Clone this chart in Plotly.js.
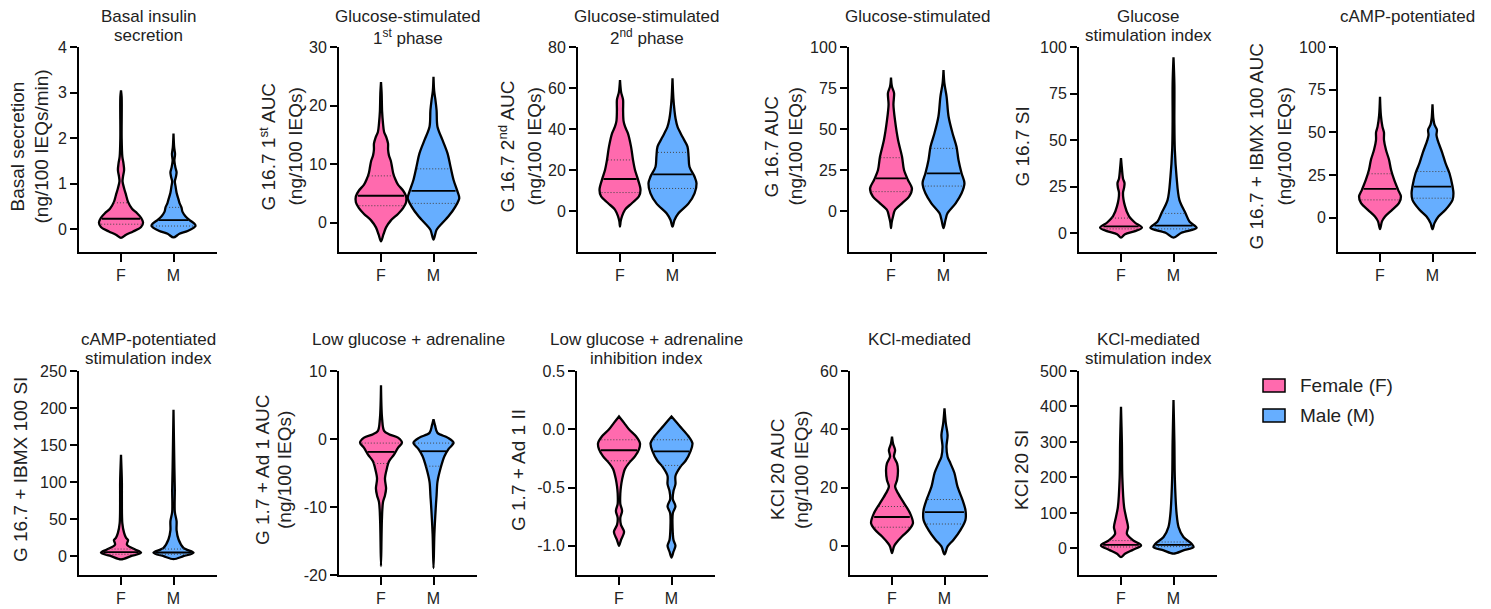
<!DOCTYPE html>
<html><head><meta charset="utf-8">
<script src="https://cdn.plot.ly/plotly-3.0.1.min.js"></script>
<style>html,body{margin:0;padding:0;background:#fff}#chart{width:1491px;height:609px}</style>
</head><body><div id="chart"></div>
<script>
// ---------------- DATA ----------------
const categories = ['F', 'M'];
const seriesNames = ['Female (F)', 'Male (M)'];

const panelTitles = [
  'Basal insulin<br>secretion', 'Glucose-stimulated<br>1<sup>st</sup> phase', 'Glucose-stimulated<br>2<sup>nd</sup> phase',
  'Glucose-stimulated', 'Glucose<br>stimulation index', 'cAMP-potentiated',
  'cAMP-potentiated<br>stimulation index', 'Low glucose + adrenaline', 'Low glucose + adrenaline<br>inhibition index',
  'KCl-mediated', 'KCl-mediated<br>stimulation index'];
const axisTitles = [
  'Basal secretion<br>(ng/100 IEQs/min)', 'G 16.7 1<sup>st</sup> AUC<br>(ng/100 IEQs)', 'G 16.7 2<sup>nd</sup> AUC<br>(ng/100 IEQs)',
  'G 16.7 AUC<br>(ng/100 IEQs)', 'G 16.7 SI', 'G 16.7 + IBMX 100 AUC<br>(ng/100 IEQs)',
  'G 16.7 + IBMX 100 SI', 'G 1.7 + Ad 1 AUC<br>(ng/100 IEQs)', 'G 1.7 + Ad 1 II',
  'KCl 20 AUC<br>(ng/100 IEQs)', 'KCl 20 SI'];

const yRanges = [[-0.5, 4], [-5, 30], [-20, 80], [-25, 100], [-10, 100], [-20, 100],
                 [-25, 250], [-20, 10], [-1.25, 0.5], [-10, 60], [-75, 500]];
const yTickVals = [[0,1,2,3,4], [0,10,20,30], [0,20,40,60,80], [0,25,50,75,100], [0,25,50,75,100], [0,25,50,75,100],
                   [0,50,100,150,200,250], [-20,-10,0,10], [-1,-0.5,0,0.5], [0,20,40,60], [0,100,200,300,400,500]];
const yTickText = [['0','1','2','3','4'], ['0','10','20','30'], ['0','20','40','60','80'], ['0','25','50','75','100'],
                   ['0','25','50','75','100'], ['0','25','50','75','100'], ['0','50','100','150','200','250'],
                   ['-20','-10','0','10'], ['-1.0','-0.5','0.0','0.5'], ['0','20','40','60'], ['0','100','200','300','400','500']];

// violin density profiles (value level, relative half-width)
const basal_F_val = [-0.19,-0.12,-0.05,0.05,0.15,0.25,0.35,0.45,0.6,0.75,0.9,1.05,1.15,1.3,1.45,1.6,2.0,2.9,3.05];
const basal_F_den = [0,0.23,0.55,0.91,1,0.91,0.73,0.5,0.32,0.23,0.14,0.07,0.09,0.14,0.11,0.06,0.03,0.03,0];
const basal_M_val = [-0.18,-0.1,-0.04,0.07,0.12,0.2,0.28,0.38,0.48,0.58,0.65,0.8,0.95,1.05,1.15,1.25,1.35,1.5,1.65,1.8,2.1];
const basal_M_den = [0,0.27,0.64,1,0.95,0.73,0.55,0.41,0.36,0.27,0.23,0.14,0.09,0.06,0.11,0.14,0.09,0.04,0.07,0.03,0];

const gsis1_F_val = [-3.2,-2,-0.8,0.4,1.5,2.5,3.5,4.5,5.5,6.5,7.5,8.5,9.5,10.5,11.5,12.5,13.5,14.5,15.5,17,19,22,24];
const gsis1_F_den = [0,0.11,0.23,0.45,0.77,1.0,1.14,1.14,1.0,0.77,0.64,0.55,0.5,0.45,0.36,0.32,0.32,0.25,0.14,0.09,0.05,0.03,0];
const gsis1_M_val = [-2.9,-1.2,0,1.1,2.8,4.2,5.3,7.3,9.6,11.8,14.1,16.4,19.2,20.9,22.5,24.9];
const gsis1_M_den = [0,0.14,0.41,0.68,1.0,1.17,1.09,0.91,0.77,0.64,0.41,0.18,0.14,0.09,0.03,0];

const gsis2_F_val = [-7.6,-5,-2.6,0.7,3.9,7.2,10.3,15.2,20,24.9,31.4,37.9,41.1,44,49.2,54.2,58,63.9];
const gsis2_F_den = [0,0.03,0.09,0.23,0.55,0.86,0.93,0.82,0.68,0.59,0.5,0.36,0.23,0.16,0.14,0.14,0.05,0];
const gsis2_M_val = [-7.6,-4.4,-1.1,3.7,8.6,13.5,16.7,21.6,26.5,31.4,36.2,41,45,49,55,64.7];
const gsis2_M_den = [0,0.09,0.27,0.73,1.0,1.09,1.0,0.77,0.73,0.68,0.45,0.23,0.14,0.09,0.04,0];

const gsis_F_val = [-10.5,-7,-3.5,0.6,4.7,8.7,13.8,18.9,25,33.1,43.3,55.5,65,71.9,76,81.3];
const gsis_F_den = [0,0.03,0.09,0.18,0.5,0.82,0.95,0.77,0.59,0.5,0.32,0.18,0.11,0.14,0.04,0];
const gsis_M_val = [-10.5,-5.5,-1.4,4.7,10.8,16.9,23,31.1,39.2,47.4,57.6,69.8,78,86];
const gsis_M_den = [0,0.09,0.18,0.55,0.82,0.95,0.82,0.68,0.59,0.41,0.23,0.14,0.04,0];

const gsi_F_val = [-2.3,-0.5,1.2,3.0,5.7,9.2,14.6,21.7,24.5,26.9,29.5,35,40.4];
const gsi_F_den = [0,0.18,0.64,0.95,0.64,0.36,0.18,0.09,0.14,0.16,0.09,0.04,0];
const gsi_M_val = [-2.3,0.35,3.0,6.2,10.7,17.8,30.2,45,60,80,94.5];
const gsi_M_den = [0,0.36,1.05,0.73,0.55,0.27,0.14,0.06,0.04,0.04,0];

const camp_F_val = [-6.6,-2.1,0.8,4.7,8.6,12.5,16.4,22.3,28.1,34,39.8,45.6,50,53.4,60,70.9];
const camp_F_den = [0,0.09,0.23,0.55,0.86,0.95,0.82,0.64,0.5,0.41,0.27,0.18,0.18,0.11,0.04,0];
const camp_M_val = [-6.6,-3.1,0.8,4.7,10.5,14.4,18.3,26.1,32,37.8,45.6,48.5,51.5,54.5,58,66.5];
const camp_M_den = [0,0.09,0.27,0.59,0.91,0.95,0.91,0.77,0.59,0.45,0.23,0.18,0.2,0.09,0.04,0];

const campSI_F_val = [-4,0.4,5,9.4,16,22,25,31.8,45,80,100,137];
const campSI_F_den = [0,0.45,0.91,0.64,0.27,0.32,0.23,0.14,0.06,0.04,0.04,0];
const campSI_M_val = [-3.6,0.4,5,11.6,22.8,35,47.5,60,90,120,197.6];
const campSI_M_den = [0,0.45,0.91,0.45,0.23,0.14,0.14,0.06,0.06,0.04,0];

const adr_F_val = [-18.7,-12,-9.3,-8.3,-7.3,-5.8,-4.3,-3.3,-2.3,-1.3,-0.55,0.2,0.7,1.2,3,7.9];
const adr_F_den = [0,0.04,0.09,0.18,0.23,0.18,0.27,0.36,0.59,0.77,0.95,0.77,0.36,0.14,0.05,0];
const adr_M_val = [-19,-14,-9.7,-8.3,-6.3,-4.3,-2.5,-1.5,-0.55,0.2,0.9,2,2.9];
const adr_M_den = [0,0.04,0.11,0.14,0.18,0.32,0.5,0.68,0.91,0.64,0.18,0.07,0];

const adrII_F_val = [-1.0,-0.95,-0.88,-0.82,-0.76,-0.7,-0.64,-0.55,-0.49,-0.43,-0.34,-0.29,-0.23,-0.17,-0.12,-0.06,0,0.055,0.11];
const adrII_F_den = [0,0.09,0.23,0.09,0.06,0.14,0.06,0.06,0.09,0.14,0.27,0.45,0.73,0.91,0.95,0.77,0.45,0.23,0];
const adrII_M_val = [-1.1,-1.05,-1.0,-0.95,-0.85,-0.72,-0.66,-0.6,-0.53,-0.47,-0.4,-0.32,-0.27,-0.19,-0.12,-0.06,0.03,0.11];
const adrII_M_den = [0,0.09,0.18,0.09,0.05,0.06,0.18,0.06,0.09,0.18,0.18,0.41,0.64,0.86,0.95,0.77,0.36,0];

const kcl_F_val = [-2.5,-0.2,0.9,3.2,5.5,7.8,11.2,14.6,18.1,20.3,22.6,26,28.3,30.6,32.9,35,37.5];
const kcl_F_den = [0,0.09,0.18,0.45,0.77,0.95,0.82,0.55,0.27,0.14,0.23,0.27,0.23,0.09,0.14,0.05,0];
const kcl_M_val = [-2.9,-0.2,2.1,5.5,8.9,12.3,15.7,20.3,25,28.3,30.6,34,38,42,47.2];
const kcl_M_den = [0,0.14,0.41,0.73,0.95,0.95,0.82,0.59,0.45,0.27,0.14,0.09,0.14,0.06,0];

const kclSI_F_val = [-24.5,-15,-3.8,8.5,22.6,41,60,88,117,200,300,399];
const kclSI_F_den = [0,0.18,0.55,0.91,0.55,0.27,0.32,0.23,0.14,0.06,0.04,0];
const kclSI_M_val = [-15,-5.6,3.8,13,32,60,98,200,300,418];
const kclSI_M_den = [0,0.45,0.91,0.82,0.45,0.23,0.14,0.06,0.04,0];

const median_F = [0.23, 4.6, 15.6, 19.9, 3.8, 17.0, 5.8, -1.9, -0.18, 9.9, 10];
const q1_F     = [0.11, 2.9,  9.0, 11.8, 2.4, 10.5, 3.0, -3.6, -0.27, 6.4, 4];
const q3_F     = [0.58, 8.0, 24.9, 32.5, 8.2, 25.8, 10,  -0.6, -0.09, 13.5, 22];
const median_M = [0.2, 5.45, 17.9, 23.0, 4.2, 18.3, 5.3, -1.8, -0.19, 11.6, 10];
const q1_M     = [0.07, 3.3, 11.0, 15.2, 2.4, 11.5, 3.0, -4.0, -0.31, 7.5, 5];
const q3_M     = [0.48, 9.2, 28.6, 38.2, 10.7, 27.1, 10, -0.6, -0.09, 15.9, 18];

const profilesF = [[basal_F_val,basal_F_den],[gsis1_F_val,gsis1_F_den],[gsis2_F_val,gsis2_F_den],[gsis_F_val,gsis_F_den],
  [gsi_F_val,gsi_F_den],[camp_F_val,camp_F_den],[campSI_F_val,campSI_F_den],[adr_F_val,adr_F_den],[adrII_F_val,adrII_F_den],
  [kcl_F_val,kcl_F_den],[kclSI_F_val,kclSI_F_den]];
const profilesM = [[basal_M_val,basal_M_den],[gsis1_M_val,gsis1_M_den],[gsis2_M_val,gsis2_M_den],[gsis_M_val,gsis_M_den],
  [gsi_M_val,gsi_M_den],[camp_M_val,camp_M_den],[campSI_M_val,campSI_M_den],[adr_M_val,adr_M_den],[adrII_M_val,adrII_M_den],
  [kcl_M_val,kcl_M_den],[kclSI_M_val,kclSI_M_den]];

// ---------------- LAYOUT / STYLE ----------------
const W = 1491, H = 609;
const FONT = 'Liberation Sans, Arial, Helvetica, sans-serif';
const TXT = '#222222';
const colors = ['#FF6AAE', '#66AEFF'];
const WSCALE = 0.42;              // category units per relative density 1
const XPX = 52.5;                 // pixels per category unit
const axLeft = [79, 339, 578, 849, 1079, 1338, 79, 339, 577, 850, 1079];
const axW = 138;
const rowTop = [47, 371], rowBot = [252, 575];
const titleTop = [5, 328];
const axisTitleX = [[17, 41], [267, 295], [506, 534], [771, 795], [1022], [1256, 1284],
                    [21], [263, 285], [519], [778, 802], [1022]];

function interp(vals, dens, v) {
  for (let i = 0; i < vals.length - 1; i++) {
    if (v >= vals[i] && v <= vals[i + 1]) {
      const t = (v - vals[i]) / (vals[i + 1] - vals[i]);
      return dens[i] + t * (dens[i + 1] - dens[i]);
    }
  }
  return 0;
}

const traces = [];
const layout = {
  width: W, height: H, margin: {l: 0, r: 0, t: 0, b: 0},
  paper_bgcolor: '#fff', plot_bgcolor: 'rgba(0,0,0,0)',
  showlegend: false, font: {family: FONT, color: TXT, size: 16},
  annotations: [], shapes: []
};

for (let p = 0; p < 11; p++) {
  const row = p < 6 ? 0 : 1;
  const n = p + 1;
  const xa = 'xaxis' + (n === 1 ? '' : n), ya = 'yaxis' + (n === 1 ? '' : n);
  const xr = 'x' + (n === 1 ? '' : n), yr = 'y' + (n === 1 ? '' : n);
  const x0 = axLeft[p] / W, x1 = (axLeft[p] + axW) / W;
  layout[xa] = {
    domain: [x0, x1], anchor: yr, range: [-0.8, -0.8 + axW / XPX],
    tickvals: [0, 1], ticktext: categories, ticks: 'outside', ticklen: 8, tickwidth: 2, tickcolor: '#000',
    showline: true, linewidth: 2, linecolor: '#000', showgrid: false, zeroline: false, fixedrange: true,
    tickfont: {family: FONT, size: 16, color: TXT}
  };
  layout[ya] = {
    domain: [1 - rowBot[row] / H, 1 - rowTop[row] / H], anchor: xr, range: yRanges[p],
    tickvals: yTickVals[p], ticktext: yTickText[p], ticks: 'outside', ticklen: 7, tickwidth: 2, tickcolor: '#000',
    showline: true, linewidth: 2, linecolor: '#000', showgrid: false, zeroline: false, fixedrange: true,
    tickfont: {family: FONT, size: 16, color: TXT}
  };

  const groups = [[profilesF[p], median_F[p], q1_F[p], q3_F[p]], [profilesM[p], median_M[p], q1_M[p], q3_M[p]]];
  groups.forEach((g, k) => {
    const [vals, dens] = g[0];
    const xs = [], ys = [];
    for (let i = 0; i < vals.length; i++) { xs.push(k + WSCALE * dens[i]); ys.push(vals[i]); }
    for (let i = vals.length - 1; i >= 0; i--) { xs.push(k - WSCALE * dens[i]); ys.push(vals[i]); }
    traces.push({
      type: 'scatter', mode: 'lines', x: xs, y: ys, xaxis: xr, yaxis: yr, fill: 'toself',
      fillcolor: colors[k], line: {color: '#000', width: 2.3, shape: 'spline', smoothing: 0.9},
      hoverinfo: 'skip', name: seriesNames[k]
    });
    [[g[1], 'solid', 1.8, '#000'], [g[2], '1px,2px', 1, '#444'], [g[3], '1px,2px', 1, '#444']].forEach(([v, dash, lw, col]) => {
      const hw = WSCALE * interp(vals, dens, v) * 0.93;
      traces.push({
        type: 'scatter', mode: 'lines', x: [k - hw, k + hw], y: [v, v], xaxis: xr, yaxis: yr,
        line: {color: col, width: lw, dash: dash}, hoverinfo: 'skip', showlegend: false
      });
    });
  });

  // panel titles (one annotation per line)
  const cx = (axLeft[p] + axW / 2) / W;
  panelTitles[p].split('<br>').forEach((line, li) => {
    layout.annotations.push({
      xref: 'paper', yref: 'paper', x: cx, y: 1 - (titleTop[row] + li * 19) / H,
      xanchor: 'center', yanchor: 'top', showarrow: false, text: line,
      font: {family: FONT, size: 17, color: TXT}
    });
  });
  // y-axis titles
  const cy = 1 - ((rowTop[row] + rowBot[row]) / 2 - 3) / H;
  axisTitles[p].split('<br>').forEach((line, li) => {
    layout.annotations.push({
      xref: 'paper', yref: 'paper', x: axisTitleX[p][li] / W, y: cy,
      xanchor: 'center', yanchor: 'middle', showarrow: false, text: line, textangle: -90,
      font: {family: FONT, size: 19, color: TXT}
    });
  });
}

// legend
const legY = [[379, 392], [409, 422]];
seriesNames.forEach((name, k) => {
  layout.shapes.push({
    type: 'rect', xref: 'paper', yref: 'paper', x0: 1263 / W, x1: 1285 / W,
    y0: 1 - legY[k][1] / H, y1: 1 - legY[k][0] / H, fillcolor: colors[k], line: {color: '#000', width: 1.5}
  });
  layout.annotations.push({
    xref: 'paper', yref: 'paper', x: 1298 / W, y: 1 - ((legY[k][0] + legY[k][1]) / 2) / H,
    xanchor: 'left', yanchor: 'middle', showarrow: false, text: name,
    font: {family: FONT, size: 19, color: TXT}
  });
});

Plotly.newPlot('chart', traces, layout, {staticPlot: true, displayModeBar: false});
</script></body></html>
